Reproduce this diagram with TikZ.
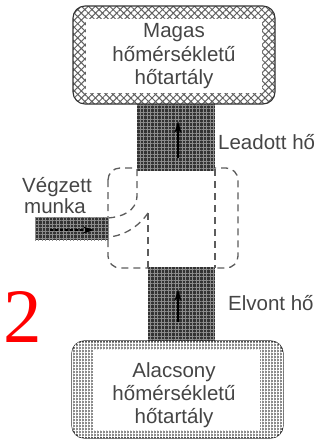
\documentclass[tikz,border=0pt]{standalone}
\usepackage{fontspec}
\setmainfont{Liberation Sans}
\newfontfamily\numfont{Liberation Serif}
\usetikzlibrary{patterns.meta,arrows.meta,calc}
\definecolor{txtgray}{HTML}{454545}
\definecolor{dashgray}{HTML}{5C5C5C}
\begin{document}
\begin{tikzpicture}[x=1pt,y=-1pt,
  lbl/.style={text=txtgray,font=\fontsize{20.5}{23.5}\selectfont,inner sep=0pt},
  bigdigit/.style={text=red,font=\numfont\fontsize{77}{77}\selectfont,inner sep=0pt},
  boxbase/.style={draw=black!80,line width=1.1pt,rounded corners=12pt,inner sep=0pt},
  hotbox/.style={boxbase,preaction={fill=white},
    pattern={Hatch[angle=45,distance=5pt,line width=1pt]},pattern color=black!62},
  coldbox/.style={boxbase,fill=black!45,
    postaction={pattern={Hatch[angle=0,distance=3pt,line width=0.5pt]},pattern color=white}},
  innerwhite/.style={fill=white,inner sep=0pt},
  flow/.style={fill=black!80,inner sep=0pt,
    postaction={pattern={Hatch[angle=0,distance=3.5pt,line width=0.45pt]},pattern color=black!45}},
  engine/.style={draw=dashgray,line width=1.3pt,dash pattern=on 7pt off 5pt},
  heatarrow/.style={draw=black,line width=1.4pt,-{Stealth[length=12pt,width=7pt]}},
  workarrow/.style={draw=black,line width=1.4pt,dash pattern=on 3pt off 2pt,-{Stealth[length=11pt,width=7pt]}}
]
\useasboundingbox (0,0) rectangle (324,448);

% dashed outline of the engine
\draw[engine,rounded corners=12pt] (108,168) rectangle (238,268);

% heat flows through the engine
\node[flow,minimum width=78pt,minimum height=67pt] (upcol) at (176,137) {};
\node[flow,minimum width=67pt,minimum height=74pt] (lowcol) at (181.5,304) {};

% inner dashed boundaries of the flows
\coordinate (ul) at (137,169);
\coordinate (ulend) at (108,218);
\coordinate (ll) at (148,213);
\coordinate (llend) at (108,237);
\coordinate (llbot) at (148,268);
\coordinate (rt) at (215,169);
\coordinate (rb) at (215,268);
\draw[engine] (ul) -- (137,195) .. controls (137,212) and (121,217) .. (ulend);
\draw[engine] (ll) .. controls (140,225) and (125,236) .. (llend);
\draw[engine] (ll) -- (llbot);
\draw[engine] (rt) -- (rb);

% work input
\node[flow,minimum width=74pt,minimum height=23pt] (work) at (72,228.5) {};

% reservoirs
\node[hotbox,minimum width=202pt,minimum height=98pt] (hot) at (174,55) {};
\node[innerwhite,minimum width=176pt,minimum height=74pt] (hotin) at (174,56) {};
\node[coldbox,minimum width=211pt,minimum height=97pt] (cold) at (177.5,389.5) {};
\node[innerwhite,minimum width=167pt,minimum height=80pt] (coldin) at (176.5,390) {};

% arrows
\coordinate (uptail) at (178,158);
\coordinate (uptip) at (178,121);
\coordinate (lowtail) at (178,322);
\coordinate (lowtip) at (178,289);
\coordinate (worktail) at (50,230);
\coordinate (worktip) at (94,230);
\draw[heatarrow] (uptail) -- (uptip);
\draw[heatarrow] (lowtail) -- (lowtip);
\draw[workarrow] (worktail) -- (worktip);

% labels
\node[lbl,anchor=base] (h1) at (174,37) {Magas};
\node[lbl,anchor=base] (h2) at (174,61) {hőmérsékletű};
\node[lbl,anchor=base] (h3) at (174,84) {hőtartály};
\node[lbl,anchor=base] (c1) at (174,377) {Alacsony};
\node[lbl,anchor=base] (c2) at (174,400) {hőmérsékletű};
\node[lbl,anchor=base] (c3) at (174,423) {hőtartály};
\node[lbl,anchor=base west] (qh) at (218,149) {Leadott hő};
\node[lbl,anchor=base west] (qc) at (228,310) {Elvont hő};
\node[lbl,anchor=base] (w1) at (57,192) {Végzett};
\node[lbl,anchor=base] (w2) at (55,213) {munka};
\node[bigdigit,anchor=base west] (num) at (3,342) {2};
\end{tikzpicture}
\end{document}
